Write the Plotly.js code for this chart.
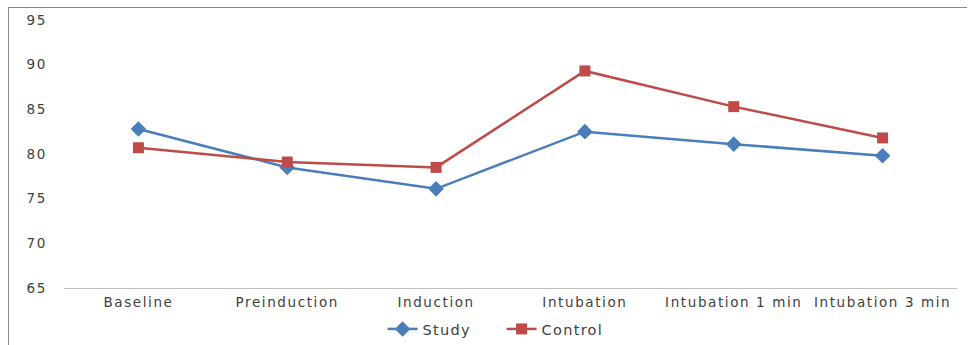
<!DOCTYPE html>
<html>
<head>
<meta charset="utf-8">
<script src="https://cdn.plot.ly/plotly-3.0.1.min.js"></script>
<style>
  html, body { margin: 0; padding: 0; background: #fff; }
  #wrap { position: relative; width: 969px; height: 345px; }
  #chart { position: absolute; left: 0; top: 0; width: 969px; height: 345px; }
  #chart text { letter-spacing: 1.6px; }
  #chart .legend text { letter-spacing: 1.3px; }
  #chart .legend .scrollbox { clip-path: none !important; }
  #frame { position: absolute; left: 8px; top: 7px; width: 958px; height: 345px;
           border-left: 1px solid #8a8a8a; border-top: 1px solid #8a8a8a; pointer-events: none; }
</style>
</head>
<body>
<div id="wrap">
  <div id="chart"></div>
  <div id="frame"></div>
</div>
<script>
const categories = ["Baseline", "Preinduction", "Induction", "Intubation", "Intubation 1 min", "Intubation 3 min"];
const studyValues = [82.8, 78.5, 76.1, 82.5, 81.1, 79.8];
const controlValues = [80.7, 79.1, 78.5, 89.3, 85.3, 81.8];
const yTicks = [65, 70, 75, 80, 85, 90, 95];

const font = { family: "DejaVu Sans, sans-serif", size: 13.5, color: "#404040" };
const legendFont = { family: "DejaVu Sans, sans-serif", size: 14.5, color: "#404040" };

const traces = [
  {
    x: categories, y: studyValues, name: "Study", type: "scatter", mode: "lines+markers",
    line: { color: "#4A7EBB", width: 2.5 },
    marker: { symbol: "diamond", size: 12, color: "#4A7EBB" }
  },
  {
    x: categories, y: controlValues, name: "Control", type: "scatter", mode: "lines+markers",
    line: { color: "#BE4B48", width: 2.5 },
    marker: { symbol: "square", size: 11, color: "#BE4B48" }
  }
];

const layout = {
  width: 969, height: 345,
  margin: { l: 64, r: 12, t: 20, b: 57, autoexpand: false },
  paper_bgcolor: "#ffffff", plot_bgcolor: "#ffffff",
  font: font,
  showlegend: true,
  legend: { orientation: "h", x: 0.49, xanchor: "center", y: -0.153, yanchor: "middle",
            font: legendFont, tracegroupgap: 0, entrywidth: 74, entrywidthmode: "pixels" },
  xaxis: {
    type: "category", range: [-0.5, 5.5], showgrid: false, zeroline: false,
    showline: true, linecolor: "#BFBFBF", linewidth: 1, ticks: "", tickfont: font,
    ticklabelstandoff: 2, automargin: false, fixedrange: true
  },
  yaxis: {
    range: [65, 95], tickvals: yTicks, ticktext: yTicks.map(String), showgrid: false,
    zeroline: false, showline: false, ticks: "", tickfont: font, ticklabelstandoff: 16,
    automargin: false, fixedrange: true
  }
};

Plotly.newPlot("chart", traces, layout, { displayModeBar: false, staticPlot: true });
</script>
</body>
</html>
